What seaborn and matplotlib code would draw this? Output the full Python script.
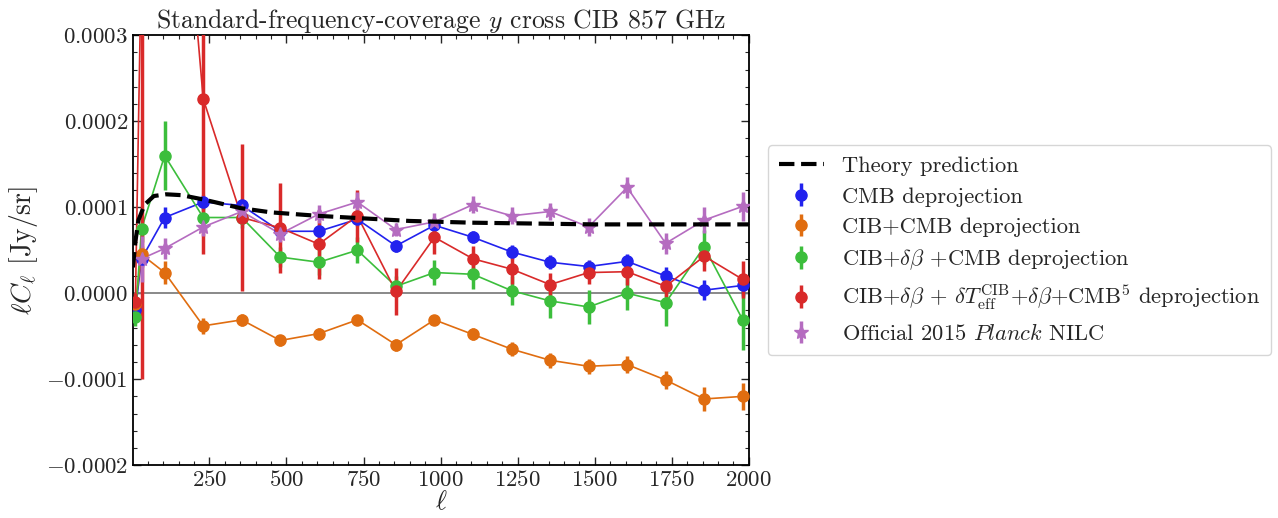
"""
y x CIB 857 GHz cross-spectra, standard frequency coverage
"""

import matplotlib

matplotlib.use("Agg")
import matplotlib.pyplot as plt
from matplotlib.ticker import AutoMinorLocator, FuncFormatter, MultipleLocator
import numpy as np
import pandas as pd
import seaborn as sns

# bin centres
ELL = [10, 30, 105, 230, 355, 480, 605, 730, 855, 980,
       1105, 1230, 1355, 1480, 1605, 1730, 1855, 1980]

CMB = [-0.00002, 0.00004, 0.000088, 0.000106, 0.000102, 0.000072, 0.000072, 0.000086, 0.000055,
       0.000079, 0.000065, 0.000048, 0.000036, 0.000031, 0.000037, 0.00002, 0.0000035, 0.000009]
CMB_ERR = [0.000008, 0.00001, 0.000012, 0.000008, 0.000008, 0.000008, 0.000008, 0.000008, 0.000007,
           0.000008, 0.000007, 0.000008, 0.000008, 0.000008, 0.000009, 0.00001, 0.000012, 0.000012]

CIB_CMB = [-0.000013, 0.000045, 0.000024, -0.000038, -0.000031, -0.000055, -0.000047, -0.000031, -0.00006,
           -0.000031, -0.000048, -0.000065, -0.000078, -0.000085, -0.000083, -0.000101, -0.000123, -0.00012]
CIB_CMB_ERR = [0.000008, 0.00001, 0.000013, 0.000009, 0.000007, 0.000006, 0.000006, 0.000006, 0.000007,
               0.000006, 0.000007, 0.000008, 0.000009, 0.000009, 0.00001, 0.000011, 0.000014, 0.000016]

CIB_DB_CMB = [-0.000028, 0.000075, 0.00016, 0.000088, 0.000088, 0.000042, 0.000036, 0.00005, 0.000008,
              0.000024, 0.000022, 0.000003, -0.000009, -0.000016, 0.0, -0.000011, 0.000054, -0.000031]
CIB_DB_CMB_ERR = [0.00001, 0.000015, 0.00004, 0.000012, 0.000012, 0.000012, 0.000015, 0.000015, 0.000012,
                  0.000015, 0.000017, 0.000017, 0.00002, 0.00002, 0.00002, 0.000027, 0.00002, 0.000035]

CIB_DB_DT_CMB = [-0.00001, 0.0004, 0.00075, 0.000226, 0.000088, 0.000076, 0.000057, 0.00009, 0.000002,
                 0.000065, 0.00004, 0.000028, 0.00001, 0.000024, 0.000025, 0.000008, 0.000043, 0.000016]
CIB_DB_DT_CMB_ERR = [0.00001, 0.0005, 0.0003, 0.00018, 0.000085, 0.000052, 0.00004, 0.00003, 0.000027,
                     0.00002, 0.000015, 0.000017, 0.000013, 0.000013, 0.000015, 0.000013, 0.000017, 0.000022]

NILC = [np.nan, 0.00004, 0.000052, 0.000077, 0.000095, 0.000069, 0.000092, 0.000106, 0.000074,
        0.000083, 0.000103, 0.00009, 0.000095, 0.000077, 0.000123, 0.000058, 0.000085, 0.000101]
NILC_ERR = [np.nan, 0.000027, 0.000012, 0.00001, 0.00001, 0.00001, 0.00001, 0.000012, 0.000008,
            0.00001, 0.00001, 0.00001, 0.00001, 0.00001, 0.000012, 0.000012, 0.000015, 0.000017]

ELL_THEORY = [2, 10, 20, 40, 70, 110, 160, 230, 350, 450, 600, 750, 900, 1100, 1300, 1500, 1750, 2000]
THEORY = [0.00003, 0.00006, 0.000085, 0.000103, 0.000113, 0.000115, 0.000114, 0.000109, 0.000099,
          0.000094, 0.00009, 0.000087, 0.000084, 0.000082, 0.000081, 0.00008, 0.00008, 0.00008]

SERIES = [
    ("CMB deprojection", CMB, CMB_ERR, "#2222ee", "o"),
    ("CIB+CMB deprojection", CIB_CMB, CIB_CMB_ERR, "#e06d10", "o"),
    (r"CIB+$\delta\beta$ +CMB deprojection", CIB_DB_CMB, CIB_DB_CMB_ERR, "#3cbe3c", "o"),
    (r"CIB+$\delta\beta$ + $\delta T_{\rm eff}^{\rm CIB}$+$\delta\beta$+CMB$^5$ deprojection",
     CIB_DB_DT_CMB, CIB_DB_DT_CMB_ERR, "#d92a2a", "o"),
    (r"Official 2015 $\mathit{Planck}$ NILC", NILC, NILC_ERR, "#b56cc0", "*"),
]


def build_frame():
    frames = []
    for label, vals, errs, _, _ in SERIES:
        frames.append(pd.DataFrame({"ell": ELL, "val": vals, "err": errs, "series": label}))
    return pd.concat(frames, ignore_index=True).dropna()


def main():
    sns.set_style("ticks")
    plt.rcParams.update({
        "font.family": "serif",
        "font.serif": ["cmr10"],
        "mathtext.fontset": "cm",
        "axes.formatter.use_mathtext": True,
        "axes.unicode_minus": True,
    })

    data = build_frame()
    palette = {s[0]: s[3] for s in SERIES}

    fig = plt.figure(figsize=(12.78, 5.18), dpi=100)
    ax = fig.add_axes([0.104, 0.102, 0.482, 0.83])

    ax.axhline(0, color="gray", lw=1.3, zorder=1)
    sns.lineplot(data=pd.DataFrame({"ell": ELL_THEORY, "val": THEORY}), x="ell", y="val",
                 color="black", lw=3, linestyle="--", dashes=(3, 1.6), ax=ax, zorder=6)
    theory_handle = ax.lines[-1]
    sns.lineplot(data=data, x="ell", y="val", hue="series", palette=palette,
                 estimator=None, sort=False, legend=False, lw=1.2, ax=ax, zorder=3)

    handles = [theory_handle]
    for label, _, _, color, marker in SERIES:
        sub = data[data.series == label]
        h = ax.errorbar(sub["ell"], sub["val"], yerr=sub["err"], fmt=marker, color=color,
                        ms=8 if marker == "o" else 10, elinewidth=2.5, capsize=0, zorder=4)
        handles.append(h)
    labels = ["Theory prediction"] + [s[0] for s in SERIES]

    ax.set_xlim(2, 2000)
    ax.set_ylim(-0.0002, 0.0003)
    ax.xaxis.set_major_locator(MultipleLocator(250))
    ax.xaxis.set_minor_locator(AutoMinorLocator(5))
    ax.yaxis.set_major_locator(MultipleLocator(0.0001))
    ax.yaxis.set_minor_locator(AutoMinorLocator(5))
    ax.yaxis.set_major_formatter(FuncFormatter(lambda v, p: r"$\mathdefault{%.4f}$" % (v + 0.0)))
    ax.xaxis.set_major_formatter(FuncFormatter(lambda v, p: r"$\mathdefault{%d}$" % v))
    ax.tick_params(which="both", direction="in", top=True, right=True, labelsize=16.5)
    ax.tick_params(which="major", length=6, width=1)
    ax.tick_params(which="minor", length=3, width=0.8)
    for sp in ax.spines.values():
        sp.set_linewidth(1.3)
        sp.set_color("black")

    ax.set_xlabel(r"$\ell$", fontsize=19, labelpad=0)
    ax.set_ylabel(r"$\ell C_\ell$ [Jy/sr]", fontsize=20)
    ax.set_title(r"Standard-frequency-coverage $y$ cross CIB 857 GHz", fontsize=18.5, pad=5)

    ax.legend(handles, labels, loc="center left", bbox_to_anchor=(1.012, 0.5), fontsize=16.2,
              frameon=True, handlelength=2.0, borderpad=0.5, labelspacing=0.47)

    fig.savefig("out.png", dpi=100)


if __name__ == "__main__":
    main()
